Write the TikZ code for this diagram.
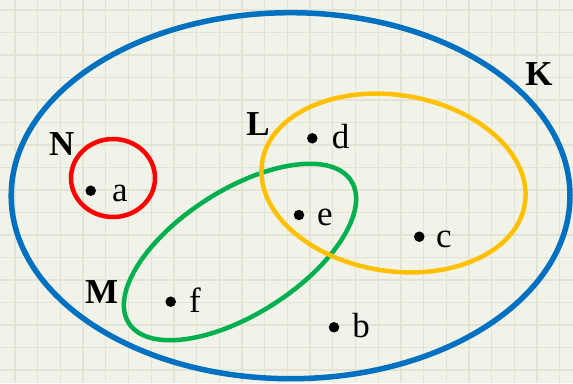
\documentclass[tikz,border=0pt]{standalone}
\usepackage{fontspec}
\setmainfont{Liberation Serif}
\definecolor{bgc}{RGB}{242,243,232}
\definecolor{gridc}{RGB}{225,228,213}
\definecolor{setK}{RGB}{0,112,192}
\definecolor{setN}{RGB}{255,0,0}
\definecolor{setL}{RGB}{255,192,0}
\definecolor{setM}{RGB}{0,176,80}
\begin{document}
\begin{tikzpicture}[x=1pt,y=-1pt,
  gridline/.style={draw=gridc,line width=1.3pt},
  setline/.style={line width=4.5pt},
  elem/.style={circle,fill=black,inner sep=0pt,minimum size=10.5pt},
  lab/.style={anchor=base,inner sep=0pt,font=\fontsize{35}{40}\selectfont},
  setlab/.style={anchor=base,inner sep=0pt,font=\fontsize{35}{40}\selectfont\bfseries}]
\fill[bgc] (0,0) rectangle (573,383);
\useasboundingbox (0,0) rectangle (573,383);
\foreach \i in {0,...,24} \draw[gridline] (15+22.7*\i,0) -- (15+22.7*\i,383);
\foreach \j in {0,...,16} \draw[gridline] (0,10+22.5*\j) -- (573,10+22.5*\j);
% sets
\coordinate (cK) at (290.6,195.7);
\coordinate (cN) at (113,178);
\coordinate (cL) at (393.5,183);
\coordinate (cM) at (240,252);
\draw[setK,line width=5.5pt] (cK) ellipse [x radius=279.4,y radius=183];
\draw[setN,setline] (cN) ellipse [x radius=42,y radius=39];
\draw[setM,setline,rotate around={32.6:(cM)}] (cM) ellipse [x radius=132,y radius=62];
\draw[setL,setline,rotate around={-9:(cL)}] (cL) ellipse [x radius=133,y radius=88];
% set labels
\node[setlab] (lK) at (539,85) {K};
\node[setlab] (lL) at (258,135) {L};
\node[setlab] (lN) at (61.7,155) {N};
\node[setlab] (lM) at (101.7,303) {M};
% elements
\node[elem] (pa) at (90.7,190.7) {};
\node[lab] (ta) at (120,201.5) {a};
\node[elem] (pd) at (312.3,138.3) {};
\node[lab] (td) at (340.5,148.3) {d};
\node[elem] (pe) at (299,215) {};
\node[lab] (te) at (325,225) {e};
\node[elem] (pc) at (419.3,236.7) {};
\node[lab] (tc) at (444,247) {c};
\node[elem] (pf) at (170.7,301.7) {};
\node[lab] (tf) at (195,312) {f};
\node[elem] (pb) at (334,327.3) {};
\node[lab] (tb) at (361,337) {b};
\end{tikzpicture}
\end{document}
